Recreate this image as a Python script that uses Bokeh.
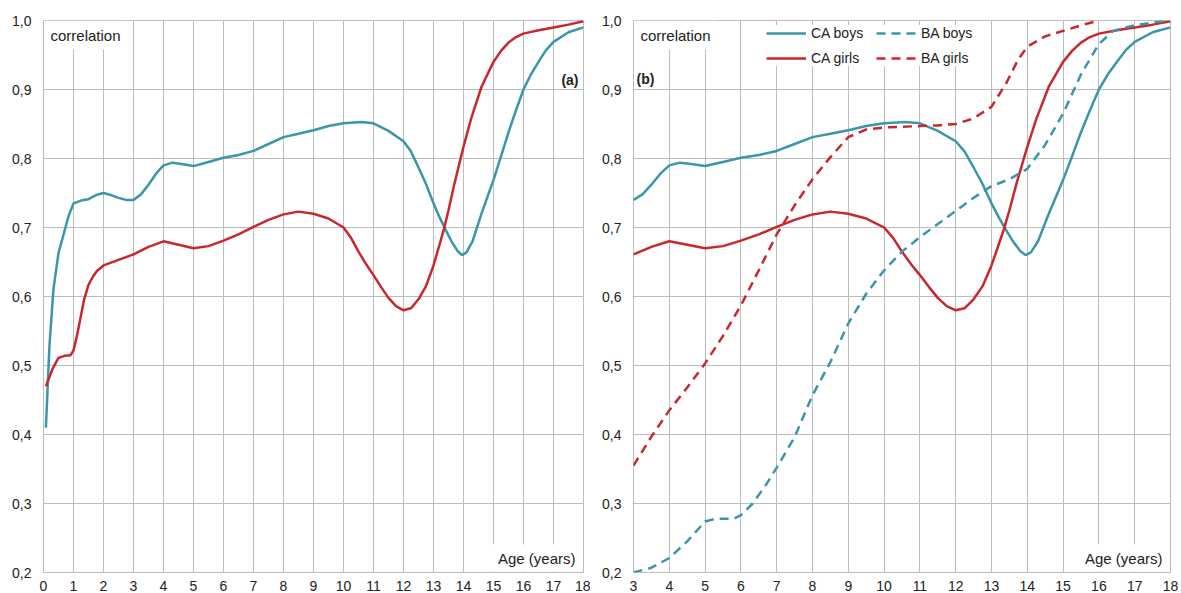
from bokeh.plotting import figure
from bokeh.models import Range1d, FixedTicker, Label, Legend, LegendItem
from bokeh.layouts import row
from bokeh.embed import file_html
from bokeh.resources import INLINE

# ---- data ----
ca_boys_age = [0.08, 0.2, 0.33, 0.5, 0.67, 0.83, 1.0, 1.25, 1.5, 1.75, 2.0, 2.25, 2.5, 2.75, 3.0, 3.25, 3.5,
               3.75, 4.0, 4.3, 4.6, 5.0, 5.5, 6.0, 6.5, 7.0, 7.5, 8.0, 8.5, 9.0, 9.5, 10.0, 10.6, 11.0,
               11.5, 12.0, 12.25, 12.5, 12.75, 13.0, 13.2, 13.4, 13.6, 13.8, 13.95, 14.1, 14.3, 14.6,
               15.0, 15.25, 15.5, 15.75, 16.0, 16.25, 16.5, 16.75, 17.0, 17.5, 18.0]
ca_boys_r = [0.41, 0.53, 0.61, 0.663, 0.69, 0.716, 0.735, 0.739, 0.741, 0.747, 0.75, 0.747, 0.743, 0.74,
             0.74, 0.748, 0.762, 0.778, 0.79, 0.794, 0.792, 0.789, 0.795, 0.801, 0.805, 0.811, 0.821,
             0.831, 0.836, 0.841, 0.847, 0.851, 0.853, 0.851, 0.84, 0.825, 0.81, 0.787, 0.763, 0.735,
             0.715, 0.697, 0.68, 0.666, 0.66, 0.664, 0.68, 0.72, 0.769, 0.803, 0.838, 0.87, 0.9, 0.922,
             0.94, 0.957, 0.969, 0.983, 0.99]

ca_girls_age = [0.08, 0.3, 0.5, 0.7, 0.9, 1.0, 1.1, 1.22, 1.35, 1.5, 1.65, 1.78, 2.0, 2.5, 3.0, 3.5, 4.0,
                4.5, 5.0, 5.5, 6.0, 6.5, 7.0, 7.5, 8.0, 8.5, 9.0, 9.5, 10.0, 10.25, 10.5, 10.75, 11.0,
                11.25, 11.5, 11.75, 12.0, 12.25, 12.5, 12.75, 13.0, 13.2, 13.35, 13.5, 13.7, 14.0, 14.25,
                14.6, 15.0, 15.25, 15.5, 15.75, 16.0, 16.5, 17.0, 17.5, 18.0]
ca_girls_r = [0.47, 0.495, 0.511, 0.514, 0.515, 0.522, 0.54, 0.566, 0.595, 0.617, 0.629, 0.637, 0.645,
              0.653, 0.661, 0.672, 0.68, 0.675, 0.67, 0.673, 0.681, 0.69, 0.701, 0.711, 0.719, 0.723,
              0.72, 0.713, 0.70, 0.685, 0.665, 0.647, 0.631, 0.614, 0.598, 0.586, 0.58, 0.583, 0.596,
              0.615, 0.645, 0.675, 0.698, 0.725, 0.764, 0.817, 0.857, 0.904, 0.94, 0.956, 0.968, 0.976,
              0.981, 0.986, 0.99, 0.994, 0.999]

ba_boys_age = [3.0, 3.5, 4.0, 4.5, 5.0, 5.3, 5.8, 6.0, 6.33, 6.7, 7.0, 7.5, 8.0, 8.5, 9.0, 9.5, 10.0,
               10.5, 11.0, 11.5, 12.0, 12.5, 13.0, 13.5, 14.0, 14.5, 15.0, 15.5, 16.0, 16.4, 17.0, 17.5, 18.0]
ba_boys_r = [0.2, 0.207, 0.221, 0.245, 0.274, 0.278, 0.278, 0.283, 0.30, 0.327, 0.352, 0.396, 0.457,
             0.505, 0.561, 0.604, 0.638, 0.665, 0.686, 0.705, 0.724, 0.743, 0.76, 0.77, 0.785, 0.82,
             0.865, 0.922, 0.966, 0.985, 0.993, 0.997, 1.0]

ba_girls_age = [3.0, 3.5, 4.0, 4.5, 5.0, 5.5, 6.0, 6.5, 7.0, 7.5, 8.0, 8.5, 9.0, 9.5, 10.0, 10.5, 11.0,
                11.5, 12.0, 12.5, 13.0, 13.4, 13.75, 14.0, 14.5, 15.0, 15.5, 16.0]
ba_girls_r = [0.355, 0.397, 0.435, 0.468, 0.503, 0.543, 0.587, 0.638, 0.69, 0.732, 0.77, 0.802, 0.831,
              0.842, 0.845, 0.846, 0.847, 0.848, 0.85, 0.858, 0.875, 0.908, 0.944, 0.962, 0.977, 0.985,
              0.993, 1.0]

y_ticks = [0.2, 0.3, 0.4, 0.5, 0.6, 0.7, 0.8, 0.9, 1.0]
y_tick_labels = ["0,2", "0,3", "0,4", "0,5", "0,6", "0,7", "0,8", "0,9", "1,0"]

TEAL = "#3a96a8"
RED = "#c8272d"
GRID = "#bdbdbd"
FONT = "Liberation Sans"
TXT = "#222222"
FS = "14px"
FS_BIG = "15px"
DASH = "9 6"


def make_fig(x0, width, border_right):
    p = figure(width=width, height=593, output_backend="svg", toolbar_location=None,
               x_range=Range1d(x0, 18), y_range=Range1d(0.2, 1.0),
               min_border_left=43, min_border_right=border_right,
               min_border_top=20, min_border_bottom=0)
    p.outline_line_color = GRID
    p.background_fill_color = "white"
    p.border_fill_color = "white"
    p.xaxis.ticker = FixedTicker(ticks=list(range(x0, 19)))
    p.yaxis.ticker = FixedTicker(ticks=y_ticks)
    p.yaxis.major_label_overrides = {t: l for t, l in zip(y_ticks, y_tick_labels)}
    for ax in (p.xaxis, p.yaxis):
        ax.axis_line_color = None
        ax.major_tick_line_color = None
        ax.minor_tick_line_color = None
        ax.major_tick_out = 0
        ax.major_tick_in = 0
        ax.major_label_text_font = FONT
        ax.major_label_text_font_size = FS
        ax.major_label_text_color = TXT
    p.yaxis.major_label_standoff = 12
    p.xaxis.major_label_standoff = 8
    p.grid.grid_line_color = GRID
    p.grid.grid_line_width = 1
    p.xgrid.ticker = FixedTicker(ticks=list(range(x0, 19)))
    p.ygrid.ticker = FixedTicker(ticks=y_ticks)
    return p


def add_labels(p, x0, tag, tag_right):
    p.add_layout(Label(x=x0, y=1.0, text="correlation", text_align="left", text_baseline="top",
                       x_offset=1, y_offset=0, text_font=FONT, text_font_size=FS_BIG, text_color=TXT,
                       background_fill_color="white", padding=6))
    p.add_layout(Label(x=18, y=0.2, text="Age (years)", text_align="right", text_baseline="bottom",
                       x_offset=-3, y_offset=1, text_font=FONT, text_font_size=FS_BIG, text_color=TXT,
                       background_fill_color="white", padding=5))
    if tag_right:
        p.add_layout(Label(x=18, y=0.9, text=tag, text_align="right", text_baseline="middle",
                           x_offset=-5, y_offset=10, text_font=FONT, text_font_size=FS,
                           text_font_style="bold", text_color=TXT))
    else:
        p.add_layout(Label(x=x0, y=0.9, text=tag, text_align="left", text_baseline="middle",
                           x_offset=3, y_offset=11, text_font=FONT, text_font_size=FS,
                           text_font_style="bold", text_color=TXT))


# ---- panel (a) ----
pa = make_fig(0, 590, 7)
pa.line(ca_boys_age, ca_boys_r, line_color=TEAL, line_width=2.5)
pa.line(ca_girls_age, ca_girls_r, line_color=RED, line_width=2.5)
add_labels(pa, 0, "(a)", True)

# ---- panel (b) ----
pb = make_fig(3, 591, 11)
ca_boys_age_b = [a for a in ca_boys_age if a >= 3]
ca_boys_r_b = [r for a, r in zip(ca_boys_age, ca_boys_r) if a >= 3]
ca_girls_age_b = [a for a in ca_girls_age if a >= 3]
ca_girls_r_b = [r for a, r in zip(ca_girls_age, ca_girls_r) if a >= 3]
r1 = pb.line(ca_boys_age_b, ca_boys_r_b, line_color=TEAL, line_width=2.5)
r2 = pb.line(ca_girls_age_b, ca_girls_r_b, line_color=RED, line_width=2.5)
r3 = pb.line(ba_boys_age, ba_boys_r, line_color=TEAL, line_width=2.5, line_dash=DASH)
r4 = pb.line(ba_girls_age, ba_girls_r, line_color=RED, line_width=2.5, line_dash=DASH)
add_labels(pb, 3, "(b)", False)

legend = Legend(items=[LegendItem(label="CA boys", renderers=[r1]),
                       LegendItem(label="CA girls", renderers=[r2]),
                       LegendItem(label="BA boys", renderers=[r3]),
                       LegendItem(label="BA girls", renderers=[r4])],
                ncols=2, location=(133, 506),
                label_text_font=FONT, label_text_font_size=FS, label_text_color=TXT,
                glyph_width=40, glyph_height=14, label_height=14, label_width=56,
                label_standoff=5, spacing=9, padding=5, margin=0,
                background_fill_color="white", background_fill_alpha=1.0,
                border_line_color=None)
pb.add_layout(legend, "center")

layout = row(pa, pb)
open("out.html", "w").write(file_html(layout, INLINE))
